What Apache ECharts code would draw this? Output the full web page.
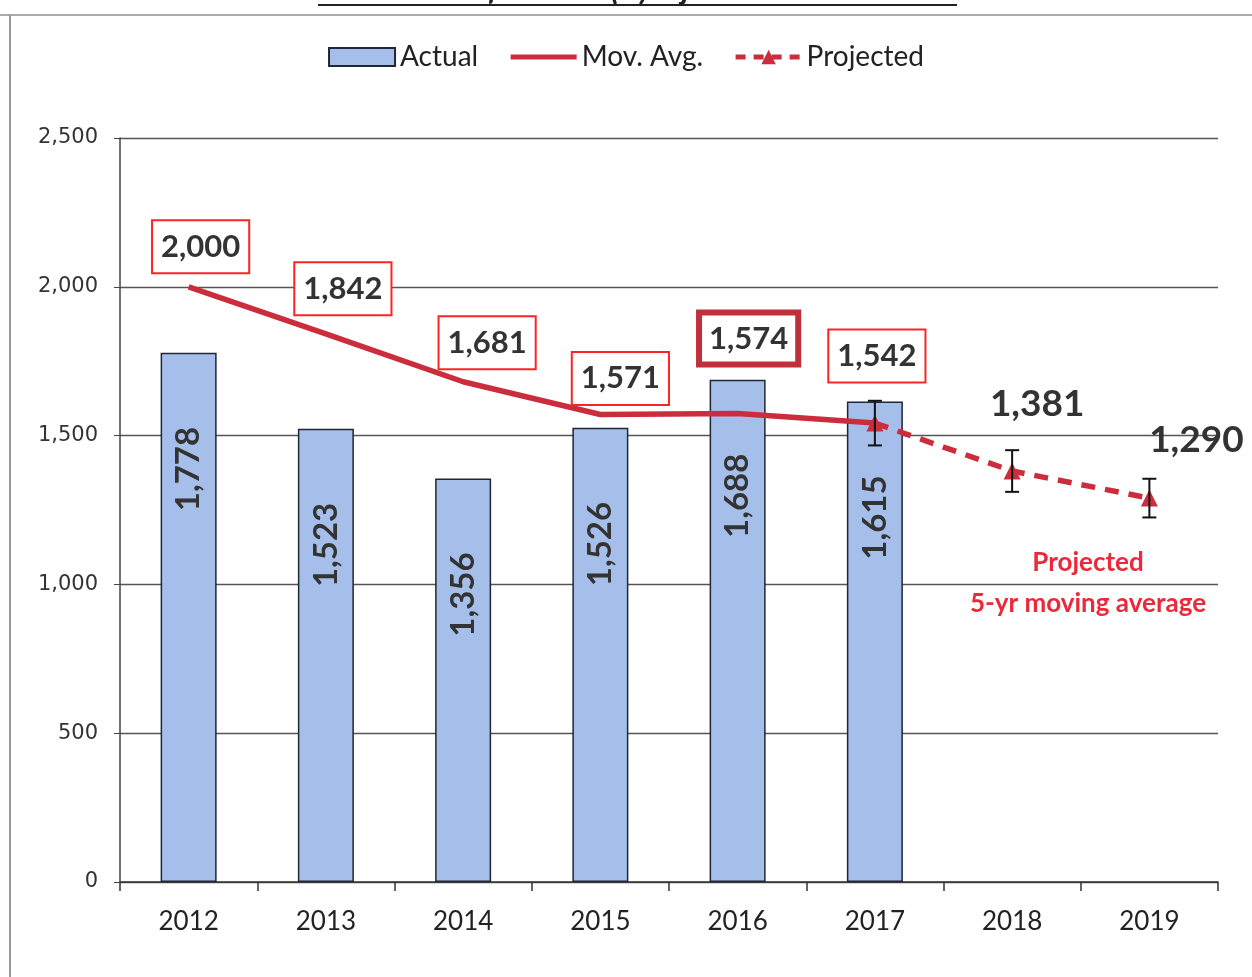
<!DOCTYPE html>
<html>
<head>
<meta charset="utf-8">
<script src="https://cdn.jsdelivr.net/npm/echarts@6/dist/echarts.min.js"></script>
<style>
  html, body { margin: 0; padding: 0; background: #fff; }
  #chart { width: 1252px; height: 977px; }
</style>
</head>
<body>
<div id="chart"></div>
<script>
'use strict'
// data
var years = ['2012', '2013', '2014', '2015', '2016', '2017', '2018', '2019'];
var actual = [1778, 1523, 1356, 1526, 1688, 1615];
var movAvg = [2000, 1842, 1681, 1571, 1574, 1542];
var projected = [1542, 1381, 1290];        // 2017 .. 2019
var projError = [75, 70, 65];              // +/- whisker
var yTicks = [0, 500, 1000, 1500, 2000, 2500];

// label box offsets (px from the point)
var movOffsets = [[12, -40], [17, -45], [24, -39], [20, -36], [11, -75], [2, -67]];
var projOffsets = [null, [25, -67], [47, -58]];

var fmt = function (v) { return Number(v).toLocaleString('en-US'); };
var RED = '#cc2d3d';
var FONT = 'Lato, "Open Sans", sans-serif';

var chart = echarts.init(document.getElementById('chart'));

var movData = movAvg.map(function (v, i) {
  var hot = i === 4;
  return {
    value: v,
    label: {
      show: true,
      position: 'inside',
      offset: movOffsets[i],
      formatter: fmt(v),
      fontFamily: FONT,
      fontWeight: 'bold',
      fontSize: 31,
      color: '#333',
      backgroundColor: '#fff',
      borderColor: hot ? '#c0303a' : '#ff2424',
      borderWidth: hot ? 6 : 2,
      padding: hot ? [8, 7, 7, 7] : [11, 8, 9, 8]
    }
  };
});

var projData = years.map(function (y, i) {
  var k = i - 5;
  if (k < 0) return '-';
  var item = { value: projected[k] };
  if (projOffsets[k]) {
    item.label = {
      show: true,
      position: 'inside',
      offset: projOffsets[k],
      formatter: fmt(projected[k]),
      fontFamily: FONT,
      fontWeight: 'bold',
      fontSize: 37,
      color: '#333'
    };
  }
  return item;
});

var errData = projected.map(function (v, k) { return [k + 5, v, projError[k]]; });

var option = {
  animation: false,
  textStyle: { fontFamily: FONT },
  graphic: [
    { type: 'line', shape: { x1: 0, y1: 15, x2: 1252, y2: 15 }, style: { stroke: '#aaa', lineWidth: 2 } },
    { type: 'line', shape: { x1: 10, y1: 15, x2: 10, y2: 977 }, style: { stroke: '#999', lineWidth: 2 } },
    { type: 'text', x: 638, y: 6, style: { text: 'Number of Serious (A) Injuries 2012-2017', align: 'center', verticalAlign: 'bottom', font: 'italic bold 32px ' + FONT, fill: '#222' } },
    { type: 'line', shape: { x1: 318, y1: 5, x2: 957, y2: 5 }, style: { stroke: '#222', lineWidth: 2 } },
    { type: 'text', x: 1088, y: 563, style: { text: 'Projected', align: 'center', verticalAlign: 'middle', font: 'bold 26px ' + FONT, fill: '#ea2a3a' } },
    { type: 'text', x: 1088, y: 604, style: { text: '5-yr moving average', align: 'center', verticalAlign: 'middle', font: 'bold 26px ' + FONT, fill: '#ea2a3a' } }
  ],
  legend: {
    top: 38,
    left: 'center',
    itemWidth: 66,
    itemHeight: 18,
    itemGap: 30,
    textStyle: { fontFamily: FONT, fontSize: 28, color: '#222' },
    data: [
      { name: 'Actual', icon: 'rect' },
      { name: 'Mov. Avg.', itemStyle: { opacity: 0 }, lineStyle: { width: 5, color: RED } },
      { name: 'Projected', lineStyle: { width: 5, color: RED, type: [10, 8] } }
    ]
  },
  grid: { left: 120, right: 34, top: 138, bottom: 95 },
  xAxis: {
    type: 'category',
    data: years,
    boundaryGap: true,
    axisLine: { lineStyle: { color: '#333', width: 1.5 } },
    axisTick: { show: true, length: 9, lineStyle: { color: '#333', width: 1.5 } },
    axisLabel: { fontFamily: FONT, fontSize: 26, color: '#222', margin: 27 }
  },
  yAxis: {
    type: 'value',
    min: yTicks[0],
    max: yTicks[yTicks.length - 1],
    interval: yTicks[1] - yTicks[0],
    axisLine: { show: true, lineStyle: { color: '#444', width: 1.5 } },
    axisTick: { show: true, inside: false, length: 6, lineStyle: { color: '#444' } },
    axisLabel: { fontFamily: '"DejaVu Sans", sans-serif', fontSize: 21, color: '#333', margin: 22, formatter: fmt },
    splitLine: { lineStyle: { color: '#555', width: 1.3 } }
  },
  series: [
    {
      name: 'Actual',
      type: 'bar',
      barWidth: 56,
      data: actual,
      itemStyle: { color: '#a6bfea', borderColor: '#1f2635', borderWidth: 1.5 },
      label: {
        show: true,
        position: 'insideTop',
        rotate: 90,
        align: 'right',
        verticalAlign: 'middle',
        distance: 74,
        formatter: function (p) { return fmt(p.value); },
        fontFamily: FONT,
        fontWeight: 'bold',
        fontSize: 33,
        color: '#333'
      },
      z: 2
    },
    {
      name: 'Mov. Avg.',
      type: 'line',
      symbol: 'circle',
      symbolSize: 0,
      showSymbol: true,
      data: movData,
      lineStyle: { color: RED, width: 5.5 },
      itemStyle: { color: RED },
      z: 4
    },
    {
      name: 'Projected',
      type: 'line',
      symbol: 'triangle',
      symbolSize: 17,
      data: projData,
      lineStyle: { color: RED, width: 5.5, type: [14, 10] },
      itemStyle: { color: RED },
      z: 5
    },
    {
      name: 'err',
      type: 'custom',
      data: errData,
      z: 6,
      renderItem: function (params, api) {
        var hi = api.coord([api.value(0), api.value(1) + api.value(2)]);
        var lo = api.coord([api.value(0), api.value(1) - api.value(2)]);
        var x = hi[0], w = 7;
        var st = { stroke: '#111', lineWidth: 2 };
        return {
          type: 'group',
          children: [
            { type: 'line', shape: { x1: x, y1: hi[1], x2: x, y2: lo[1] }, style: st },
            { type: 'line', shape: { x1: x - w, y1: hi[1], x2: x + w, y2: hi[1] }, style: st },
            { type: 'line', shape: { x1: x - w, y1: lo[1], x2: x + w, y2: lo[1] }, style: st }
          ]
        };
      }
    }
  ]
};

chart.setOption(option);
</script>
</body>
</html>
